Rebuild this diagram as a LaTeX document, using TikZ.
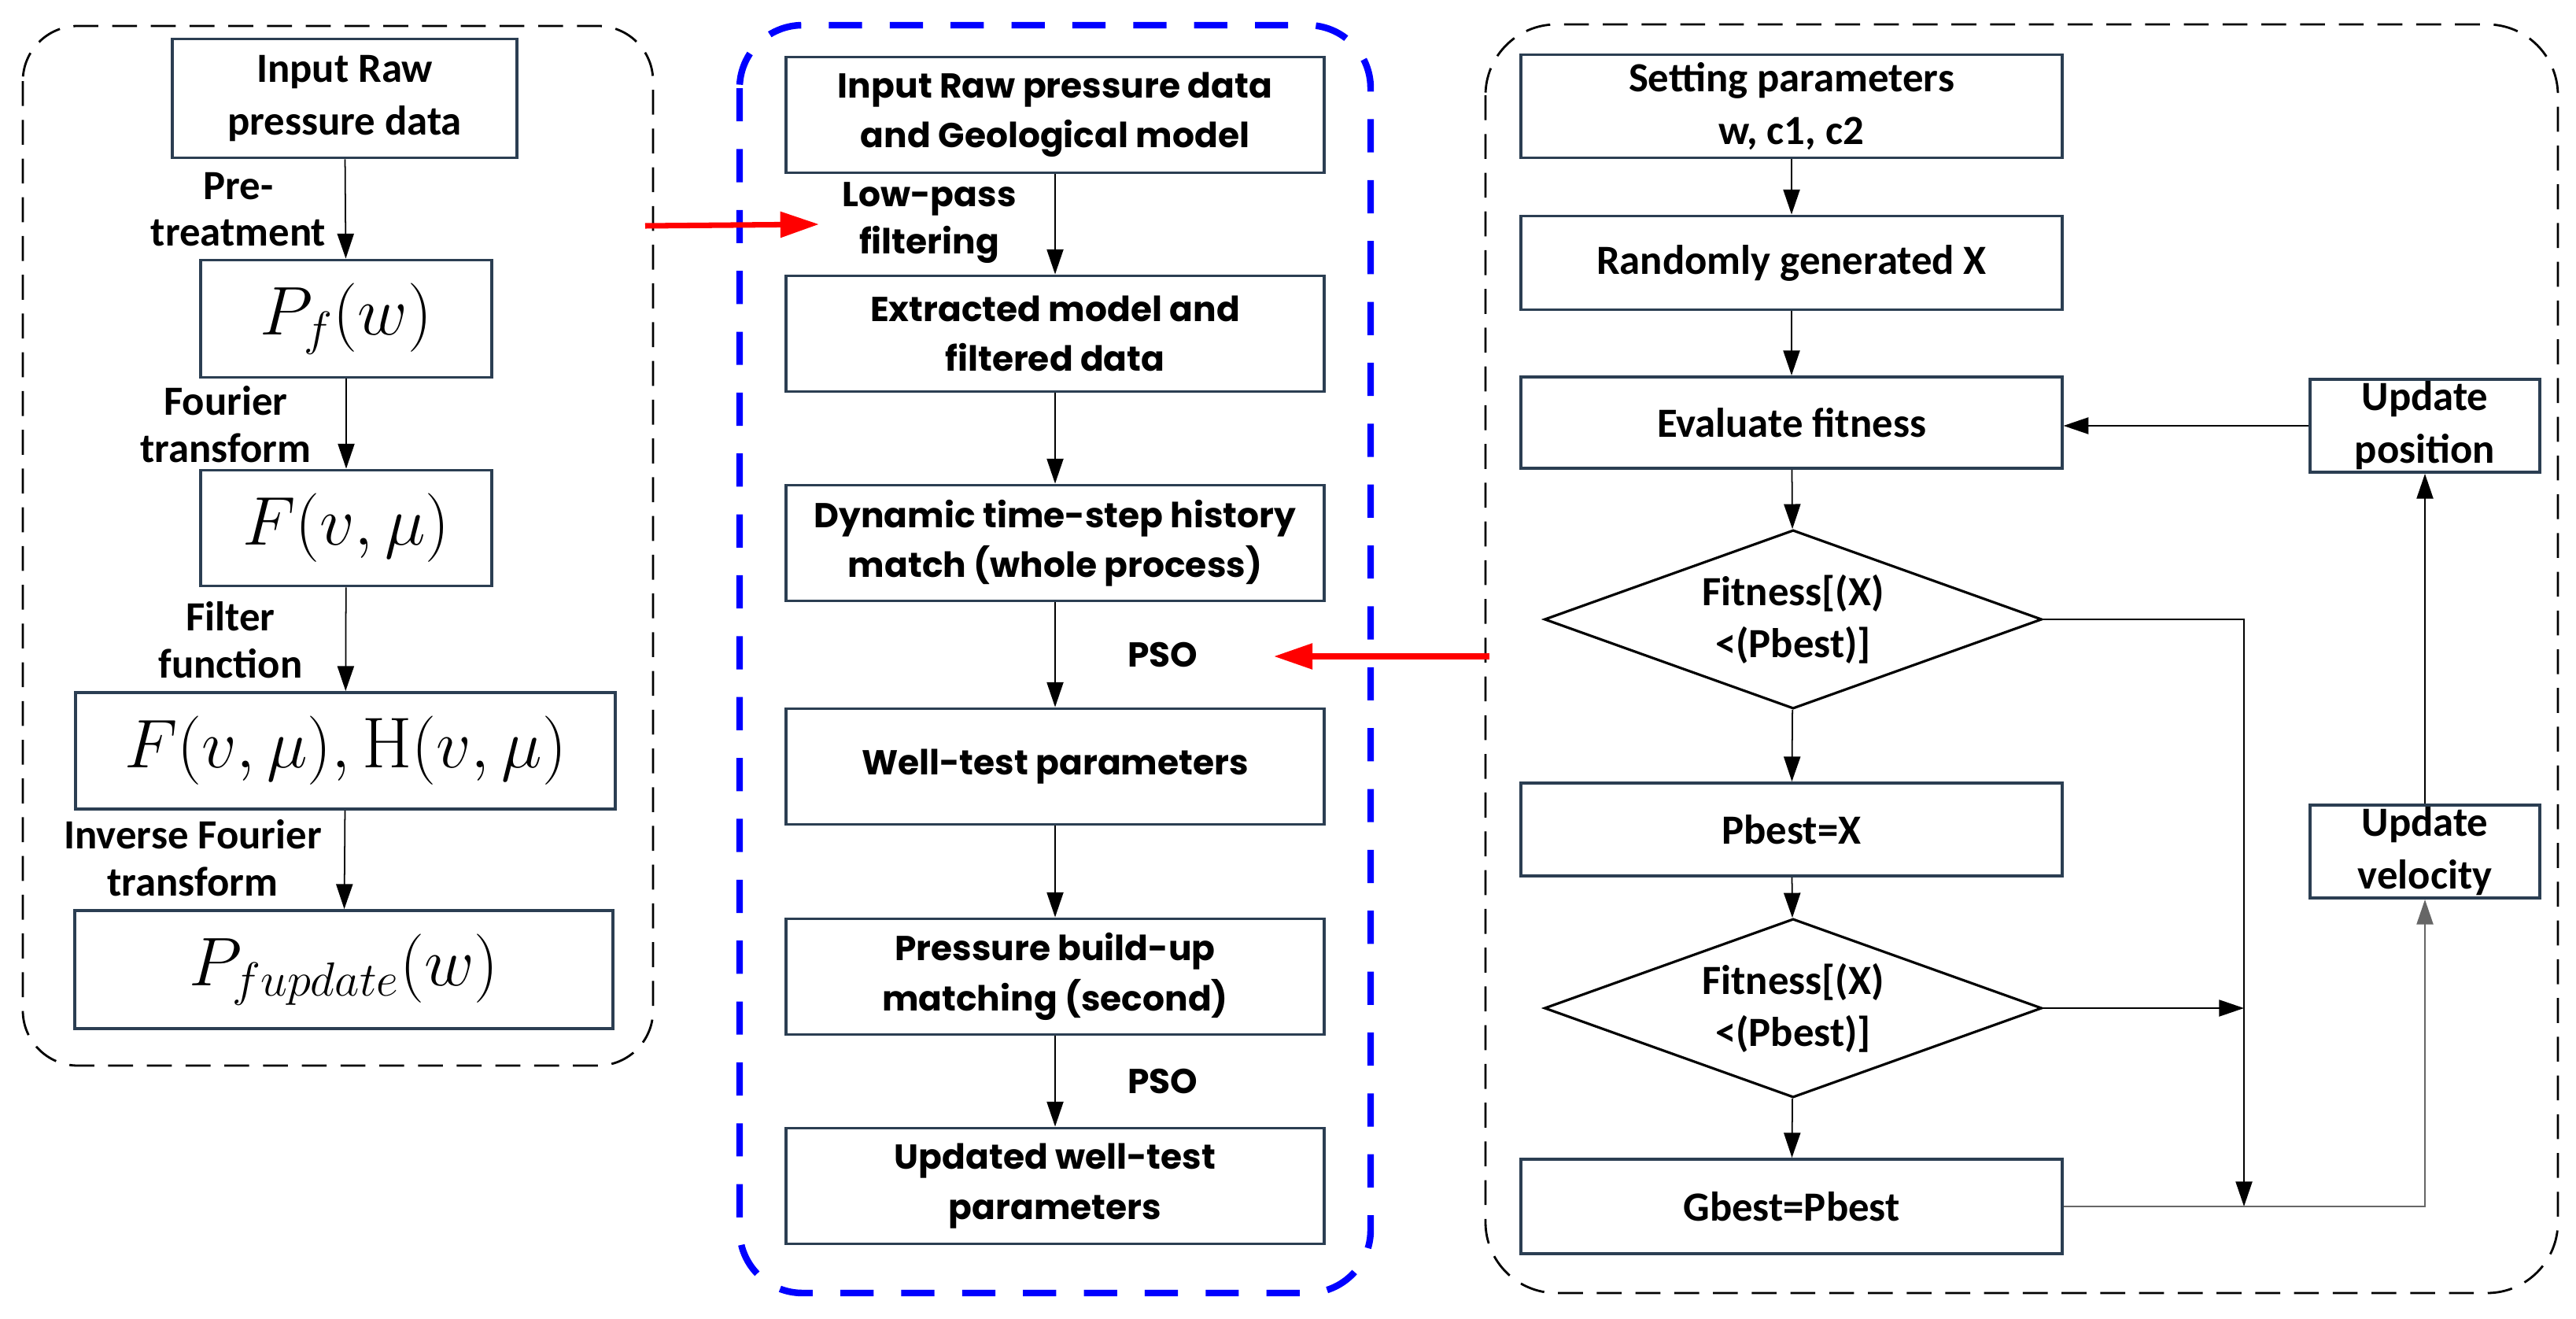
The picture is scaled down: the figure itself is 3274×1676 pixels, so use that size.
\documentclass[tikz,border=0pt]{standalone}
\usepackage{fontspec}
\usepackage{amsmath}
\usetikzlibrary{arrows.meta}
\usetikzlibrary{shapes.geometric}
\newfontfamily\calfont{Carlito}
\newfontfamily\popfont{Poppins}
\definecolor{boxline}{HTML}{2B3E52}
\tikzstyle{calbox}=[draw=boxline,line width=1.1pt,align=center,inner sep=0pt,font=\calfont\bfseries\fontsize{15}{19}\selectfont]
\tikzstyle{popbox}=[draw=boxline,line width=1.1pt,align=center,inner sep=0pt,minimum width=6.84cm,minimum height=1.47cm,font=\popfont\bfseries\fontsize{12.5}{18}\selectfont]
\tikzstyle{mathbox}=[draw=boxline,line width=1.1pt,inner sep=0pt,font=\fontsize{26}{30}\selectfont]
\tikzstyle{decision}=[draw=black,line width=0.9pt,diamond,aspect=2.78,inner sep=0pt,minimum width=6.32cm,minimum height=2.27cm,align=center,font=\calfont\bfseries\fontsize{15}{19}\selectfont]
\tikzstyle{flow}=[-{Triangle[length=9pt,width=6pt]},line width=0.5pt]
\tikzstyle{steplabel}=[align=center,font=\calfont\bfseries\fontsize{15}{17}\selectfont]
\tikzstyle{poplabel}=[align=center,font=\popfont\bfseries\fontsize{12.5}{17}\selectfont]
\tikzstyle{redflow}=[red,line width=2pt,-{Triangle[length=14pt,width=9pt]}]
\begin{document}
\begin{tikzpicture}[x=0.01cm,y=-0.01cm]
	\useasboundingbox (0,0) rectangle (3274,1676);
	% the three panels
	\draw[dashed,dash pattern=on 9pt off 5pt,line width=0.8pt,rounded corners=0.7cm] (29,33) rectangle (830,1354);
	\draw[blue,line width=2.4pt,dash pattern=on 12pt off 10pt,rounded corners=0.8cm] (940,32) rectangle (1742,1643);
	\draw[dashed,dash pattern=on 9pt off 5pt,line width=0.8pt,rounded corners=0.9cm] (1888,31) rectangle (3251,1643);
	% left column: filtering
	\node[calbox,minimum width=4.38cm,minimum height=1.51cm] (in1) at (438,125) {Input Raw\\pressure data};
	\node[mathbox,minimum width=3.7cm,minimum height=1.49cm] (pf) at (440,405) {$P_f(w)$};
	\node[mathbox,minimum width=3.7cm,minimum height=1.47cm] (fv) at (440,671) {$F(v,\mu)$};
	\node[mathbox,minimum width=6.86cm,minimum height=1.48cm] (fh) at (439,954) {$F(v,\mu),\mathrm{H}(v,\mu)$};
	\node[mathbox,minimum width=6.83cm,minimum height=1.5cm] (pu) at (437,1232) {$P_{fupdate}(w)$};
	\draw[flow] (in1) -- (pf);
	\draw[flow] (pf) -- (fv);
	\draw[flow] (fv) -- (fh);
	\draw[flow] (fh) -- (pu);
	\node[steplabel] (l1) at (303,266) {Pre-\\treatment};
	\node[steplabel] (l2) at (287,539) {Fourier\\transform};
	\node[steplabel] (l3) at (293,813) {Filter\\function};
	\node[steplabel] (l4) at (245,1090) {Inverse Fourier\\transform};
	% middle column: matching
	\node[popbox] (m1) at (1341,146) {Input Raw pressure data\\and Geological model};
	\node[popbox] (m2) at (1341,424) {Extracted model and\\filtered data};
	\node[popbox] (m3) at (1341,690) {Dynamic time-step history\\match (whole process)};
	\node[popbox] (m4) at (1341,974) {Well-test parameters};
	\node[popbox] (m5) at (1341,1241) {Pressure build-up\\matching (second)};
	\node[popbox] (m6) at (1341,1507) {Updated well-test\\parameters};
	\foreach \a/\b in {m1/m2,m2/m3,m3/m4,m4/m5,m5/m6}
		\draw[flow] (\a) -- (\b);
	\node[poplabel] (lp) at (1181,283) {Low-pass\\filtering};
	\node[poplabel] (pso1) at (1478,832) {PSO};
	\node[poplabel] (pso2) at (1478,1374) {PSO};
	% links between the panels
	\coordinate (r1s) at (820,287);
	\coordinate (r1e) at (1041,285);
	\coordinate (r2s) at (1893,834);
	\coordinate (r2e) at (1619,834);
	\draw[redflow] (r1s) -- (r1e);
	\draw[redflow] (r2s) -- (r2e);
	% right column: PSO loop
	\node[calbox,minimum width=6.87cm,minimum height=1.31cm] (set) at (2277,135) {Setting parameters\\w, c1, c2};
	\node[calbox,minimum width=6.87cm,minimum height=1.19cm] (rnd) at (2277,334) {Randomly generated X};
	\node[calbox,minimum width=6.87cm,minimum height=1.16cm] (eval) at (2277,537) {Evaluate fitness};
	\node[decision] (d1) at (2279,787) {Fitness[(X)\\<(Pbest)]};
	\node[calbox,minimum width=6.87cm,minimum height=1.18cm] (pbest) at (2277,1054) {Pbest=X};
	\node[decision] (d2) at (2279,1281) {Fitness[(X)\\<(Pbest)]};
	\node[calbox,minimum width=6.87cm,minimum height=1.2cm] (gbest) at (2277,1533) {Gbest=Pbest};
	\node[calbox,minimum width=2.92cm,minimum height=1.18cm] (upp) at (3082,541) {Update\\position};
	\node[calbox,minimum width=2.92cm,minimum height=1.18cm] (upv) at (3082,1082) {Update\\velocity};
	\draw[flow] (set) -- (rnd);
	\draw[flow] (rnd) -- (eval);
	\draw[flow] (eval) -- (d1);
	\draw[flow] (d1) -- (pbest);
	\draw[flow] (pbest) -- (d2);
	\draw[flow] (d2) -- (gbest);
	\coordinate (jn) at (2852,1533);
	\draw[flow] (d1.east) -| (jn);
	\draw[flow] (d2.east) -- (d2.east -| jn);
	\draw[flow,black!60] (gbest.east) -| (upv.south);
	\draw[flow] (upv) -- (upp);
	\draw[flow] (upp.west) -- (upp.west -| eval.east);
\end{tikzpicture}
\end{document}
